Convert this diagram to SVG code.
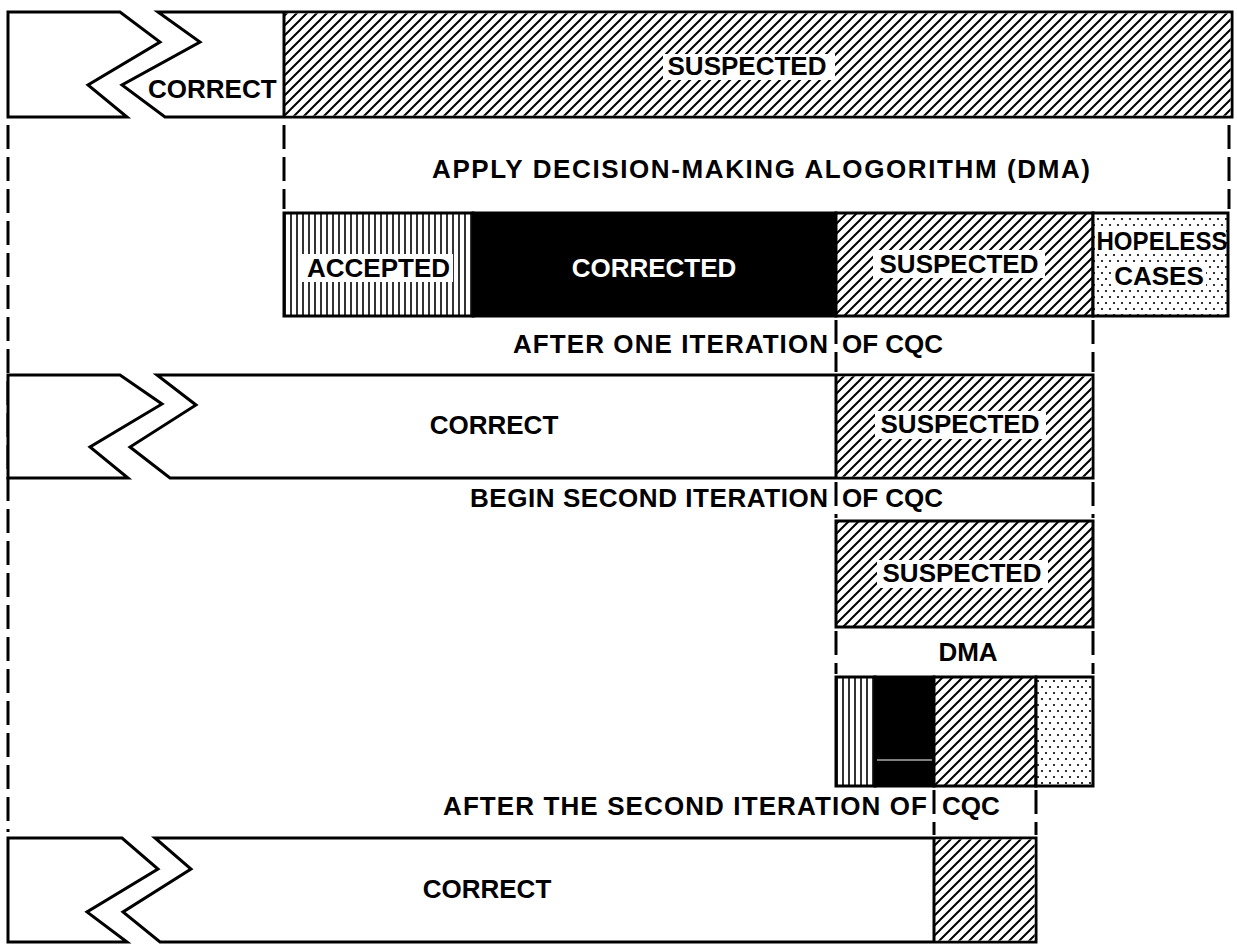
<svg xmlns="http://www.w3.org/2000/svg" width="1237" height="944" viewBox="0 0 1237 944">
<defs>
<pattern id="hatch" patternUnits="userSpaceOnUse" width="10" height="10">
<rect width="10" height="10" fill="#fff"/>
<path d="M-2,2 L2,-2 M0,10 L10,0 M8,12 L12,8" stroke="#000" stroke-width="2"/>
</pattern>
<pattern id="vlines" patternUnits="userSpaceOnUse" width="6" height="10">
<rect width="6" height="10" fill="#fff"/>
<line x1="3" y1="0" x2="3" y2="10" stroke="#000" stroke-width="1.6"/>
</pattern>
<pattern id="dots" patternUnits="userSpaceOnUse" width="8" height="12">
<rect width="8" height="12" fill="#fff"/>
<circle cx="2" cy="3" r="1.1" fill="#000"/>
<circle cx="6" cy="9" r="1.1" fill="#000"/>
</pattern>
<style>
.box{stroke:#000;stroke-width:3;stroke-linejoin:miter}
.t{font-family:"Liberation Sans",Arial,sans-serif;font-weight:bold;font-size:26px;fill:#000}
.m{text-anchor:middle}
.e{text-anchor:end}
.w{fill:#fff}
.dash{stroke:#000;stroke-width:3;stroke-dasharray:24 8;fill:none}
.ln{stroke:#000;stroke-width:3}
</style>
</defs>
<rect width="1237" height="944" fill="#fff"/>

<g id="connectors">
<line class="dash" x1="8" y1="125" x2="8" y2="832"/>
<line class="dash" x1="284" y1="125" x2="284" y2="209"/>
<line class="dash" x1="1229" y1="125" x2="1229" y2="209"/>
<line class="dash" x1="836" y1="320" x2="836" y2="372"/>
<line class="dash" x1="1093" y1="320" x2="1093" y2="372"/>
<line class="dash" x1="836" y1="482" x2="836" y2="518"/>
<line class="dash" x1="1093" y1="482" x2="1093" y2="518"/>
<line class="dash" x1="836" y1="631" x2="836" y2="674"/>
<line class="dash" x1="1093" y1="631" x2="1093" y2="674"/>
<line class="dash" x1="934" y1="790" x2="934" y2="835"/>
<line class="dash" x1="1036" y1="790" x2="1036" y2="835"/>
</g>

<g id="row1-start">
<path class="box" fill="#fff" d="M8,12 L120,12 L160,42 L88,85 L127,117 L8,117 Z"/>
<path class="box" fill="#fff" d="M158,12 L1232,12 L1232,117 L165,117 L122,85 L200,42 Z"/>
<rect x="284" y="13.5" width="946.5" height="102" fill="url(#hatch)"/>
<line class="ln" x1="284" y1="12" x2="284" y2="117"/>
<rect x="663" y="54" width="172" height="26" fill="#fff"/>
<text class="t" x="148" y="98">CORRECT</text>
<text class="t m" x="747" y="75">SUSPECTED</text>
</g>

<g id="label-dma1">
<text class="t m" x="761" y="178" textLength="658" lengthAdjust="spacing">APPLY DECISION-MAKING ALOGORITHM (DMA)</text>
</g>

<g id="row-dma-result">
<rect class="box" x="284" y="213" width="189" height="103" fill="url(#vlines)"/>
<rect class="box" x="473" y="213" width="363" height="103" fill="#000"/>
<rect class="box" x="836" y="213" width="257" height="103" fill="url(#hatch)"/>
<rect class="box" x="1093" y="213" width="135" height="103" fill="url(#dots)"/>
<rect x="302" y="254" width="151" height="28" fill="#fff"/>
<rect x="873" y="250" width="172" height="28" fill="#fff"/>
<rect x="1096" y="229" width="130" height="25" fill="#fff"/>
<rect x="1112" y="263" width="94" height="25" fill="#fff"/>
<text class="t" x="307" y="277">ACCEPTED</text>
<text class="t m w" x="654" y="277">CORRECTED</text>
<text class="t m" x="959" y="273">SUSPECTED</text>
<text class="t m" x="1162" y="250" textLength="131" lengthAdjust="spacingAndGlyphs">HOPELESS</text>
<text class="t m" x="1159" y="285">CASES</text>
</g>

<g id="label-iter1">
<text class="t e" x="828" y="353" textLength="315" lengthAdjust="spacing">AFTER ONE ITERATION</text>
<text class="t" x="842" y="353">OF CQC</text>
</g>

<g id="row2">
<path class="box" fill="#fff" d="M8,375 L120,375 L162,404 L90,447 L128,478 L8,478 Z"/>
<path class="box" fill="#fff" d="M157,375 L1093,375 L1093,478 L170,478 L130,447 L196,405 Z"/>
<rect x="836" y="376.5" width="255.5" height="100" fill="url(#hatch)"/>
<line class="ln" x1="836" y1="375" x2="836" y2="478"/>
<rect x="875" y="411" width="171" height="28" fill="#fff"/>
<text class="t m" x="494" y="434">CORRECT</text>
<text class="t m" x="960" y="433">SUSPECTED</text>
</g>

<g id="label-iter2">
<text class="t e" x="828" y="507" textLength="358" lengthAdjust="spacing">BEGIN SECOND ITERATION</text>
<text class="t" x="842" y="507">OF CQC</text>
</g>

<g id="row3-suspected">
<rect class="box" x="836" y="521" width="257" height="106" fill="url(#hatch)"/>
<rect x="877" y="560" width="171" height="28" fill="#fff"/>
<text class="t m" x="962" y="582">SUSPECTED</text>
</g>

<g id="label-dma2">
<text class="t m" x="968" y="661">DMA</text>
</g>

<g id="row3-result">
<rect class="box" x="836" y="677" width="39" height="109" fill="url(#vlines)"/>
<rect class="box" x="875" y="677" width="59" height="109" fill="#000"/>
<line x1="877" y1="760" x2="932" y2="760" stroke="#fff" stroke-width="1"/>
<rect class="box" x="934" y="677" width="102" height="109" fill="url(#hatch)"/>
<rect class="box" x="1036" y="677" width="57" height="109" fill="url(#dots)"/>
</g>

<g id="label-iter3">
<text class="t e" x="927" y="815" textLength="484" lengthAdjust="spacing">AFTER THE SECOND ITERATION OF</text>
<text class="t" x="942" y="815">CQC</text>
</g>

<g id="row4">
<path class="box" fill="#fff" d="M8,838 L122,838 L158,869 L87,912 L127,942 L8,942 Z"/>
<path class="box" fill="#fff" d="M155,838 L1036,838 L1036,942 L160,942 L123,912 L191,869 Z"/>
<rect x="934" y="839.5" width="100.5" height="101" fill="url(#hatch)"/>
<line class="ln" x1="934" y1="838" x2="934" y2="942"/>
<text class="t m" x="487" y="898">CORRECT</text>
</g>
</svg>
